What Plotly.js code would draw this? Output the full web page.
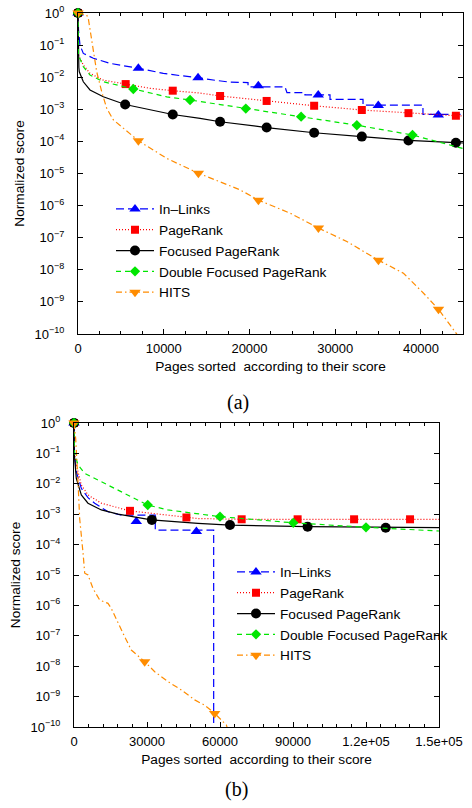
<!DOCTYPE html>
<html><head><meta charset="utf-8">
<script src="https://cdn.plot.ly/plotly-3.0.1.min.js"></script>
<style>html,body{margin:0;padding:0;background:#fff;}#chart{width:472px;height:808px;}</style>
</head><body><div id="chart"></div>
<script>
// ---------- data ----------
const seriesNames = ["In\u2013Links", "PageRank", "Focused PageRank", "Double Focused PageRank", "HITS"];

// Panel (a)
const aInX = [0, 60, 230, 620, 1790, 3730, 7040, 9950, 11900, 13850, 16000, 17730, 19830, 19830, 24140, 24370, 26470, 26470, 29390, 29390, 33240, 33240, 40230, 40230, 44900];
const aInY = [1, 0.3, 0.1, 0.055, 0.039, 0.027, 0.019, 0.0132, 0.0112, 0.0098, 0.008, 0.0070, 0.0068, 0.0050, 0.0050, 0.0033, 0.0033, 0.0028, 0.0028, 0.00204, 0.00204, 0.00135, 0.00135, 0.00069, 0.00069];
const aInMX = [0, 7040, 14000, 21030, 28020, 35020, 42020];
const aInMY = [1, 0.019, 0.0096, 0.0054, 0.0028, 0.00132, 0.00066];

const aPRX = [0, 20, 40, 620, 1400, 2950, 5600, 8400, 11050, 14240, 16570, 22000, 27540, 33100, 38540, 44070, 44900];
const aPRY = [1, 0.1, 0.049, 0.024, 0.0132, 0.0081, 0.0061, 0.0045, 0.0038, 0.0032, 0.0026, 0.00182, 0.00129, 0.00095, 0.00076, 0.00063, 0.00062];
const aPRMX = [0, 5560, 11050, 16570, 22000, 27540, 33100, 38540, 44070];
const aPRMY = [1, 0.0061, 0.0038, 0.0026, 0.00182, 0.00129, 0.00095, 0.00076, 0.00063];

const aFPRX = [0, 40, 100, 150, 620, 1400, 2950, 5500, 8400, 11050, 14240, 16570, 22000, 27540, 33100, 38540, 44070, 44900];
const aFPRY = [1, 0.05, 0.02, 0.0148, 0.0072, 0.0040, 0.00245, 0.00141, 0.00095, 0.00069, 0.00052, 0.00041, 0.00027, 0.000186, 0.000141, 0.000107, 0.000091, 0.000089];
const aFPRMX = [0, 5500, 11050, 16570, 22000, 27540, 33100, 38540, 44070];
const aFPRMY = [1, 0.00141, 0.00069, 0.00041, 0.00027, 0.000186, 0.000141, 0.000107, 0.000091];

const aDFX = [0, 20, 40, 620, 1400, 2950, 4500, 6450, 10350, 13070, 19570, 26020, 32520, 39010, 44900];
const aDFY = [1, 0.1, 0.049, 0.0214, 0.0117, 0.0072, 0.0058, 0.0043, 0.00245, 0.00195, 0.00105, 0.00059, 0.00032, 0.000158, 0.000060];
const aDFMX = [0, 6450, 13070, 19570, 26020, 32520, 39010];
const aDFMY = [1, 0.0043, 0.00195, 0.00105, 0.00059, 0.00032, 0.000158];

const aHX = [0, 1010, 1200, 1600, 2180, 2770, 3350, 4120, 5290, 7040, 10350, 14040, 18900, 21040, 24740, 28040, 31350, 35040, 37960, 40300, 42040, 44190, 44900];
const aHY = [1, 0.87, 0.68, 0.16, 0.0148, 0.0035, 0.00107, 0.00047, 0.000257, 0.000105, 2.95e-5, 1.02e-5, 3.1e-6, 1.48e-6, 5.8e-7, 2.0e-7, 7.6e-8, 2.0e-8, 7.8e-9, 1.86e-9, 5.9e-10, 1.0e-10, 5.4e-11];
const aHMX = [0, 7040, 14040, 21040, 28040, 35040, 42040];
const aHMY = [1, 0.000105, 1.02e-5, 1.48e-6, 2.0e-7, 2.0e-8, 5.9e-10];

// Panel (b)
const bInX = [0, 200, 950, 3010, 5750, 8500, 14000, 19450, 33400, 33400, 57400, 57400];
const bInY = [1, 0.1, 0.025, 0.0071, 0.0035, 0.0023, 0.0012, 0.00093, 0.00093, 0.00030, 0.00030, 1e-12];
const bInMX = [0, 25600, 50300];
const bInMY = [1, 0.00057, 0.00027];

const bPRX = [0, 100, 950, 3010, 5750, 11230, 22880, 46160, 50960, 69000, 150000];
const bPRY = [1, 0.11, 0.042, 0.0091, 0.0043, 0.0023, 0.00129, 0.00078, 0.00072, 0.00068, 0.00068];
const bPRMX = [0, 23000, 46200, 68900, 91900, 115100, 138100];
const bPRMY = [1, 0.00129, 0.00078, 0.00068, 0.00068, 0.00068, 0.00068];

const bFPRX = [0, 100, 950, 3010, 5750, 11230, 18100, 31780, 50960, 64100, 96000, 128100, 150000];
const bFPRY = [1, 0.1, 0.015, 0.0043, 0.0023, 0.00138, 0.001, 0.00065, 0.0005, 0.00044, 0.00039, 0.00036, 0.00036];
const bFPRMX = [0, 32000, 64100, 96000, 128100];
const bFPRMY = [1, 0.00065, 0.00044, 0.00039, 0.00036];

const bDFX = [0, 80, 700, 1640, 4400, 11000, 19000, 24400, 30300, 38630, 50960, 60000, 90100, 120000, 150000];
const bDFY = [1, 0.12, 0.075, 0.042, 0.022, 0.012, 0.0055, 0.0033, 0.0020, 0.00138, 0.001, 0.00083, 0.00052, 0.00037, 0.00028];
const bDFMX = [0, 30300, 60000, 90100, 120000];
const bDFMY = [1, 0.0020, 0.00083, 0.00052, 0.00037];

const bHX = [0, 700, 1640, 2330, 3750, 4400, 5750, 7810, 10560, 13970, 15330, 18080, 20830, 23540, 29050, 33170, 38630, 44100, 49600, 53700, 57800, 62600, 64000];
const bHY = [1, 0.3, 0.0117, 0.00072, 0.00005, 1.15e-5, 1.0e-5, 3.6e-6, 1.5e-6, 1.17e-6, 7.9e-7, 2.6e-7, 9.3e-8, 3.4e-8, 1.41e-8, 6.6e-9, 3.1e-9, 1.66e-9, 7.8e-10, 5.2e-10, 2.8e-10, 1.17e-10, 5e-11];
const bHMX = [0, 29050, 57800];
const bHMY = [1, 1.41e-8, 2.8e-10];

// tick labels
const yTickVals = [1e-10, 1e-9, 1e-8, 1e-7, 1e-6, 1e-5, 1e-4, 1e-3, 1e-2, 1e-1, 1];
const yTickText = ["10<sup>\u221210</sup>", "10<sup>\u22129</sup>", "10<sup>\u22128</sup>", "10<sup>\u22127</sup>", "10<sup>\u22126</sup>", "10<sup>\u22125</sup>", "10<sup>\u22124</sup>", "10<sup>\u22123</sup>", "10<sup>\u22122</sup>", "10<sup>\u22121</sup>", "10<sup>0</sup>"];
const aXTickVals = [0, 10000, 20000, 30000, 40000];
const aXTickText = ["0", "10000", "20000", "30000", "40000"];
const bXTickVals = [0, 30000, 60000, 90000, 120000, 150000];
const bXTickText = ["0", "30000", "60000", "90000", "1.2e+05", "1.5e+05"];
const xTitle = "Pages sorted\u00a0 according to their score";
const yTitle = "Normalized score";

// ---------- styles ----------
const colors = ["#0000ff", "#ff0000", "#000000", "#00e600", "#ff8c00"];
const symbols = ["triangle-up", "square", "circle", "diamond", "triangle-down"];
const msizes = [10, 8, 10, 8, 10];
const dashes = ["8px,4px", "1px,2px", "solid", "5px,4px", "6px,3px,1.5px,3px"];

const panelA = [[aInX, aInY, aInMX, aInMY], [aPRX, aPRY, aPRMX, aPRMY], [aFPRX, aFPRY, aFPRMX, aFPRMY], [aDFX, aDFY, aDFMX, aDFMY], [aHX, aHY, aHMX, aHMY]];
const panelB = [[bInX, bInY, bInMX, bInMY], [bPRX, bPRY, bPRMX, bPRMY], [bFPRX, bFPRY, bFPRMX, bFPRMY], [bDFX, bDFY, bDFMX, bDFMY], [bHX, bHY, bHMX, bHMY]];

const traces = [];
function addPanel(panel, xa, ya, leg) {
  panel.forEach((s, i) => {
    const line = {color: colors[i], width: 1.2, dash: dashes[i]};
    const marker = {color: colors[i], symbol: symbols[i], size: msizes[i], line: {width: 0}};
    traces.push({x: s[0], y: s[1], mode: "lines", line: line, xaxis: xa, yaxis: ya, showlegend: false, hoverinfo: "skip"});
    traces.push({x: s[2], y: s[3], mode: "markers", marker: marker, xaxis: xa, yaxis: ya, showlegend: false, cliponaxis: false});
    traces.push({x: [null], y: [null], mode: "lines+markers", name: seriesNames[i], line: line, marker: marker, xaxis: xa, yaxis: ya, legend: leg, showlegend: true});
  });
}
addPanel(panelA, "x", "y", "legend");
addPanel(panelB, "x2", "y2", "legend2");

const fontFam = "Liberation Sans, Arial, Helvetica, sans-serif";
const axBase = {showline: true, linecolor: "#000", linewidth: 1, mirror: "ticks", ticks: "inside", ticklen: 5, tickwidth: 1, tickcolor: "#000", showgrid: false, zeroline: false, tickfont: {family: fontFam, size: 13, color: "#000"}, fixedrange: true};

function yAx(domain, anchor) {
  return Object.assign({}, axBase, {domain: domain, anchor: anchor, type: "log", range: [-10, 0], tickmode: "array", tickvals: yTickVals, ticktext: yTickText, ticklabelstandoff: 10,
    title: {text: yTitle, font: {family: fontFam, size: 13.7, color: "#000"}, standoff: 6}});
}
function xAx(domain, anchor, range, tv, tt, minorD) {
  return Object.assign({}, axBase, {domain: domain, anchor: anchor, range: range, tickmode: "array", tickvals: tv, ticktext: tt, ticklabelstandoff: 2,
    minor: {dtick: minorD, tick0: 0, ticks: "inside", ticklen: 3, tickcolor: "#000", showgrid: false},
    title: {text: xTitle, font: {family: fontFam, size: 13.7, color: "#000"}, standoff: 6}});
}

const layout = {
  width: 472, height: 808, margin: {l: 0, r: 0, t: 0, b: 0},
  paper_bgcolor: "#fff", plot_bgcolor: "#fff",
  font: {family: fontFam, size: 13, color: "#000"},
  xaxis: xAx([78/472, 463/472], "y", [0, 44900], aXTickVals, aXTickText, 2500),
  yaxis: yAx([1 - 334/808, 1 - 13/808], "x"),
  xaxis2: xAx([74/472, 439/472], "y2", [0, 150000], bXTickVals, bXTickText, 6000),
  yaxis2: yAx([1 - 727/808, 1 - 423/808], "x2"),
  legend: {x: 111/472, xanchor: "left", y: 1 - 251/808, yanchor: "middle", bgcolor: "rgba(0,0,0,0)", borderwidth: 0, itemwidth: 38, font: {family: fontFam, size: 13.7, color: "#000"}},
  legend2: {x: 232/472, xanchor: "left", y: 1 - 614/808, yanchor: "middle", bgcolor: "rgba(0,0,0,0)", borderwidth: 0, itemwidth: 38, font: {family: fontFam, size: 13.7, color: "#000"}},
  annotations: [
    {text: "(a)", xref: "paper", yref: "paper", x: 238/472, y: 1 - 402/808, xanchor: "center", yanchor: "middle", showarrow: false, font: {family: "Liberation Serif, Times New Roman, serif", size: 20, color: "#000"}},
    {text: "(b)", xref: "paper", yref: "paper", x: 236/472, y: 1 - 789/808, xanchor: "center", yanchor: "middle", showarrow: false, font: {family: "Liberation Serif, Times New Roman, serif", size: 20, color: "#000"}}
  ]
};

Plotly.newPlot("chart", traces, layout, {staticPlot: true, displayModeBar: false});
</script>
</body></html>
